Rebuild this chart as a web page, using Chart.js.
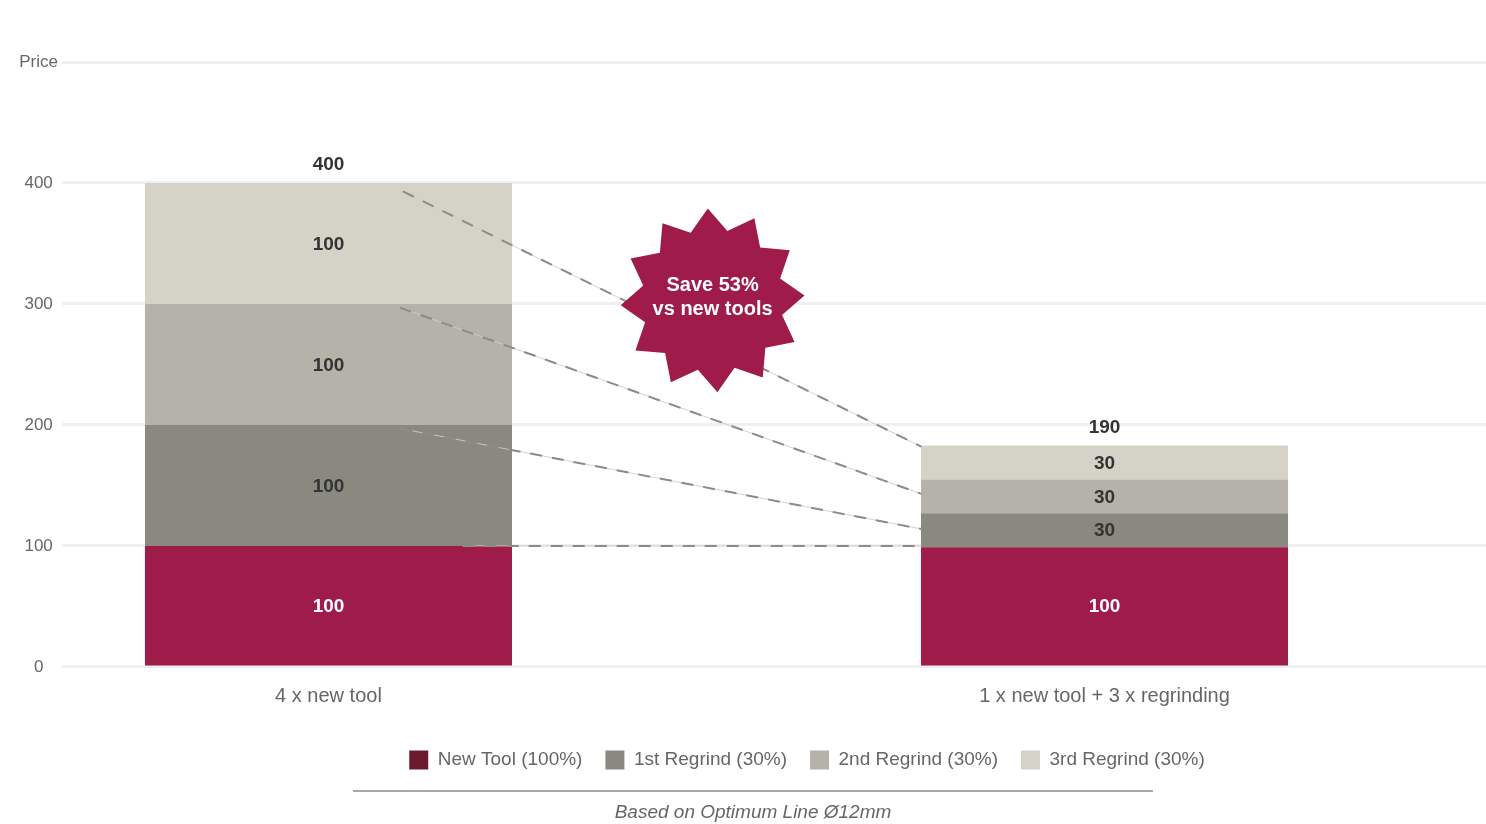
<!DOCTYPE html>
<html>
<head>
<meta charset="utf-8">
<script src="https://cdn.jsdelivr.net/npm/chart.js@4.4.1/dist/chart.umd.min.js"></script>
<style>
  html, body { margin: 0; padding: 0; background: #ffffff; overflow: hidden; }
  canvas { display: block; }
</style>
</head>
<body>
<canvas id="chart" width="1486" height="824"></canvas>
<script>
// ---------- data ----------
const categories = ['4 x new tool', '1 x new tool + 3 x regrinding'];
const seriesNames = ['New Tool (100%)', '1st Regrind (30%)', '2nd Regrind (30%)', '3rd Regrind (30%)'];

// bar heights as drawn in the picture
const newTool  = [100, 99];
const regrind1 = [100, 28];
const regrind2 = [100, 28];
const regrind3 = [100, 28];

// value labels as printed
const newToolLabels  = ['100', '100'];
const regrind1Labels = ['100', '30'];
const regrind2Labels = ['100', '30'];
const regrind3Labels = ['100', '30'];
const totalLabels    = ['400', '190'];

const yTickValues = [0, 100, 200, 300, 400, 500];
const yAxisTitle = 'Price';

// dashed connector lines (x in category index units, y in price units)
const connectorFromX = [0.096, 0.092, 0.093, 0.173];
const connectorFromY = [393, 297, 197, 100];
const connectorToX   = [0.764, 0.764, 0.764, 0.764];
const connectorToY   = [182, 143, 114, 100];

const badgeLines = ['Save 53%', 'vs new tools'];
const badgeX = 0.495;
const badgeY = 303;

const footnote = 'Based on Optimum Line Ø12mm';

// ---------- styles ----------
const FONT = "'Liberation Sans', Arial, Helvetica, sans-serif";
const barColors = ['#9e1b4a', '#89897f', '#b5b2aa', '#d5d3c7'];
const legendColors = ['#6d1a2e', '#89897f', '#b5b2aa', '#d5d3c7'];
const labelColors = ['#ffffff', '#333333', '#333333', '#333333'];
const seriesData = [newTool, regrind1, regrind2, regrind3];
const seriesLabels = [newToolLabels, regrind1Labels, regrind2Labels, regrind3Labels];

Chart.defaults.font.family = FONT;

const LEGEND_SHIFT = 64;
const TITLE_SHIFT = 10;

const overlayPlugin = {
  id: 'overlays',
  afterLayout(chart) {
    if (chart.legend) { chart.legend.left += LEGEND_SHIFT; chart.legend.right += LEGEND_SHIFT; }
    if (chart.titleBlock) { chart.titleBlock.left += TITLE_SHIFT; chart.titleBlock.right += TITLE_SHIFT; }
  },
  afterDatasetsDraw(chart) {
    const ctx = chart.ctx;
    const xs = chart.scales.x, ys = chart.scales.y;

    // connectors
    ctx.save();
    for (let k = 0; k < connectorFromX.length; k++) {
      const x1 = xs.getPixelForValue(connectorFromX[k]);
      const y1 = ys.getPixelForValue(connectorFromY[k]);
      const x2 = xs.getPixelForValue(connectorToX[k]);
      const y2 = ys.getPixelForValue(connectorToY[k]);
      ctx.setLineDash([]);
      ctx.strokeStyle = 'rgba(205,205,200,0.9)';
      ctx.lineWidth = 1;
      ctx.beginPath(); ctx.moveTo(x1, y1); ctx.lineTo(x2, y2); ctx.stroke();
      ctx.setLineDash([12, 10]);
      ctx.strokeStyle = '#8c8c86';
      ctx.lineWidth = 2;
      ctx.beginPath(); ctx.moveTo(x1, y1); ctx.lineTo(x2, y2); ctx.stroke();
    }
    ctx.restore();

    // segment labels & totals
    ctx.save();
    ctx.textAlign = 'center';
    ctx.textBaseline = 'middle';
    ctx.font = 'bold 19px ' + FONT;
    seriesData.forEach((_, i) => {
      const meta = chart.getDatasetMeta(i);
      meta.data.forEach((el, j) => {
        const p = el.getProps(['x', 'y', 'base'], true);
        ctx.fillStyle = labelColors[i];
        ctx.fillText(seriesLabels[i][j], p.x, (p.y + p.base) / 2 + 1);
      });
    });
    const topMeta = chart.getDatasetMeta(seriesData.length - 1);
    topMeta.data.forEach((el, j) => {
      const p = el.getProps(['x', 'y'], true);
      ctx.fillStyle = '#333333';
      ctx.fillText(totalLabels[j], p.x, p.y - 18);
    });
    ctx.restore();

    // starburst badge
    const cx = xs.getPixelForValue(badgeX);
    const cy = ys.getPixelForValue(badgeY);
    const R = 92, r = 71, n = 12;
    const rot = -3 * Math.PI / 180;
    ctx.save();
    ctx.beginPath();
    for (let i = 0; i < n * 2; i++) {
      const a = -Math.PI / 2 + rot + i * Math.PI / n;
      const rad = i % 2 === 0 ? R : r;
      const px = cx + rad * Math.cos(a), py = cy + rad * Math.sin(a);
      if (i === 0) ctx.moveTo(px, py); else ctx.lineTo(px, py);
    }
    ctx.closePath();
    ctx.fillStyle = '#9e1b4a';
    ctx.fill();
    ctx.fillStyle = '#ffffff';
    ctx.font = 'bold 20px ' + FONT;
    ctx.textAlign = 'center';
    ctx.textBaseline = 'middle';
    ctx.fillText(badgeLines[0], cx, cy - 15);
    ctx.fillText(badgeLines[1], cx, cy + 9);
    ctx.restore();
  },
  afterDraw(chart) {
    const t = chart.titleBlock;
    if (!t) return;
    const ctx = chart.ctx;
    const mid = (t.left + t.right) / 2;
    ctx.save();
    ctx.strokeStyle = '#8a8a8a';
    ctx.lineWidth = 1.5;
    ctx.beginPath();
    ctx.moveTo(mid - 400, t.top + 11.5);
    ctx.lineTo(mid + 400, t.top + 11.5);
    ctx.stroke();
    ctx.restore();
  }
};

const datasets = seriesData.map((arr, i) => ({
  label: seriesNames[i],
  data: arr.map((v, j) => ({ x: j, y: v })),
  backgroundColor: barColors[i],
  borderWidth: 0,
  categoryPercentage: 1,
  barPercentage: 0.473
}));

new Chart(document.getElementById('chart'), {
  type: 'bar',
  data: { datasets },
  plugins: [overlayPlugin],
  options: {
    responsive: false,
    animation: false,
    layout: { padding: { top: 62, left: 0, right: 0, bottom: 0 } },
    scales: {
      x: {
        type: 'linear',
        stacked: true,
        offset: false,
        min: -0.3434,
        max: 1.4916,
        grid: { display: false },
        border: { display: false },
        afterBuildTicks: s => { s.ticks = categories.map((c, i) => ({ value: i })); },
        afterFit: s => { s.height = 60.5; },
        ticks: {
          autoSkip: false,
          maxRotation: 0,
          padding: 10,
          color: '#666666',
          font: { size: 20 },
          callback: v => categories[v] !== undefined ? categories[v] : ''
        }
      },
      y: {
        stacked: true,
        min: 0,
        max: 500,
        grid: { color: '#f0f0f0', lineWidth: 3, drawTicks: false },
        border: { display: false },
        afterBuildTicks: s => { s.ticks = yTickValues.map(v => ({ value: v })); },
        afterFit: s => { s.width = 62; },
        ticks: {
          crossAlign: 'center',
          padding: 4,
          color: '#666666',
          font: { size: 17 },
          callback: v => v === 500 ? yAxisTitle : String(v)
        }
      }
    },
    plugins: {
      tooltip: { enabled: false },
      legend: {
        position: 'bottom',
        labels: {
          boxWidth: 19,
          boxHeight: 19,
          padding: 23,
          color: '#666666',
          font: { size: 19 },
          generateLabels(chart) {
            const items = Chart.defaults.plugins.legend.labels.generateLabels(chart);
            items.forEach((it, i) => {
              it.fillStyle = legendColors[i];
              it.strokeStyle = legendColors[i];
              it.lineWidth = 0;
            });
            return items;
          }
        }
      },
      title: {
        display: true,
        position: 'bottom',
        text: footnote,
        color: '#666666',
        font: { size: 19, style: 'italic', weight: 'normal' },
        padding: { top: 21.5, bottom: 0.3 }
      }
    }
  }
});
</script>
</body>
</html>
